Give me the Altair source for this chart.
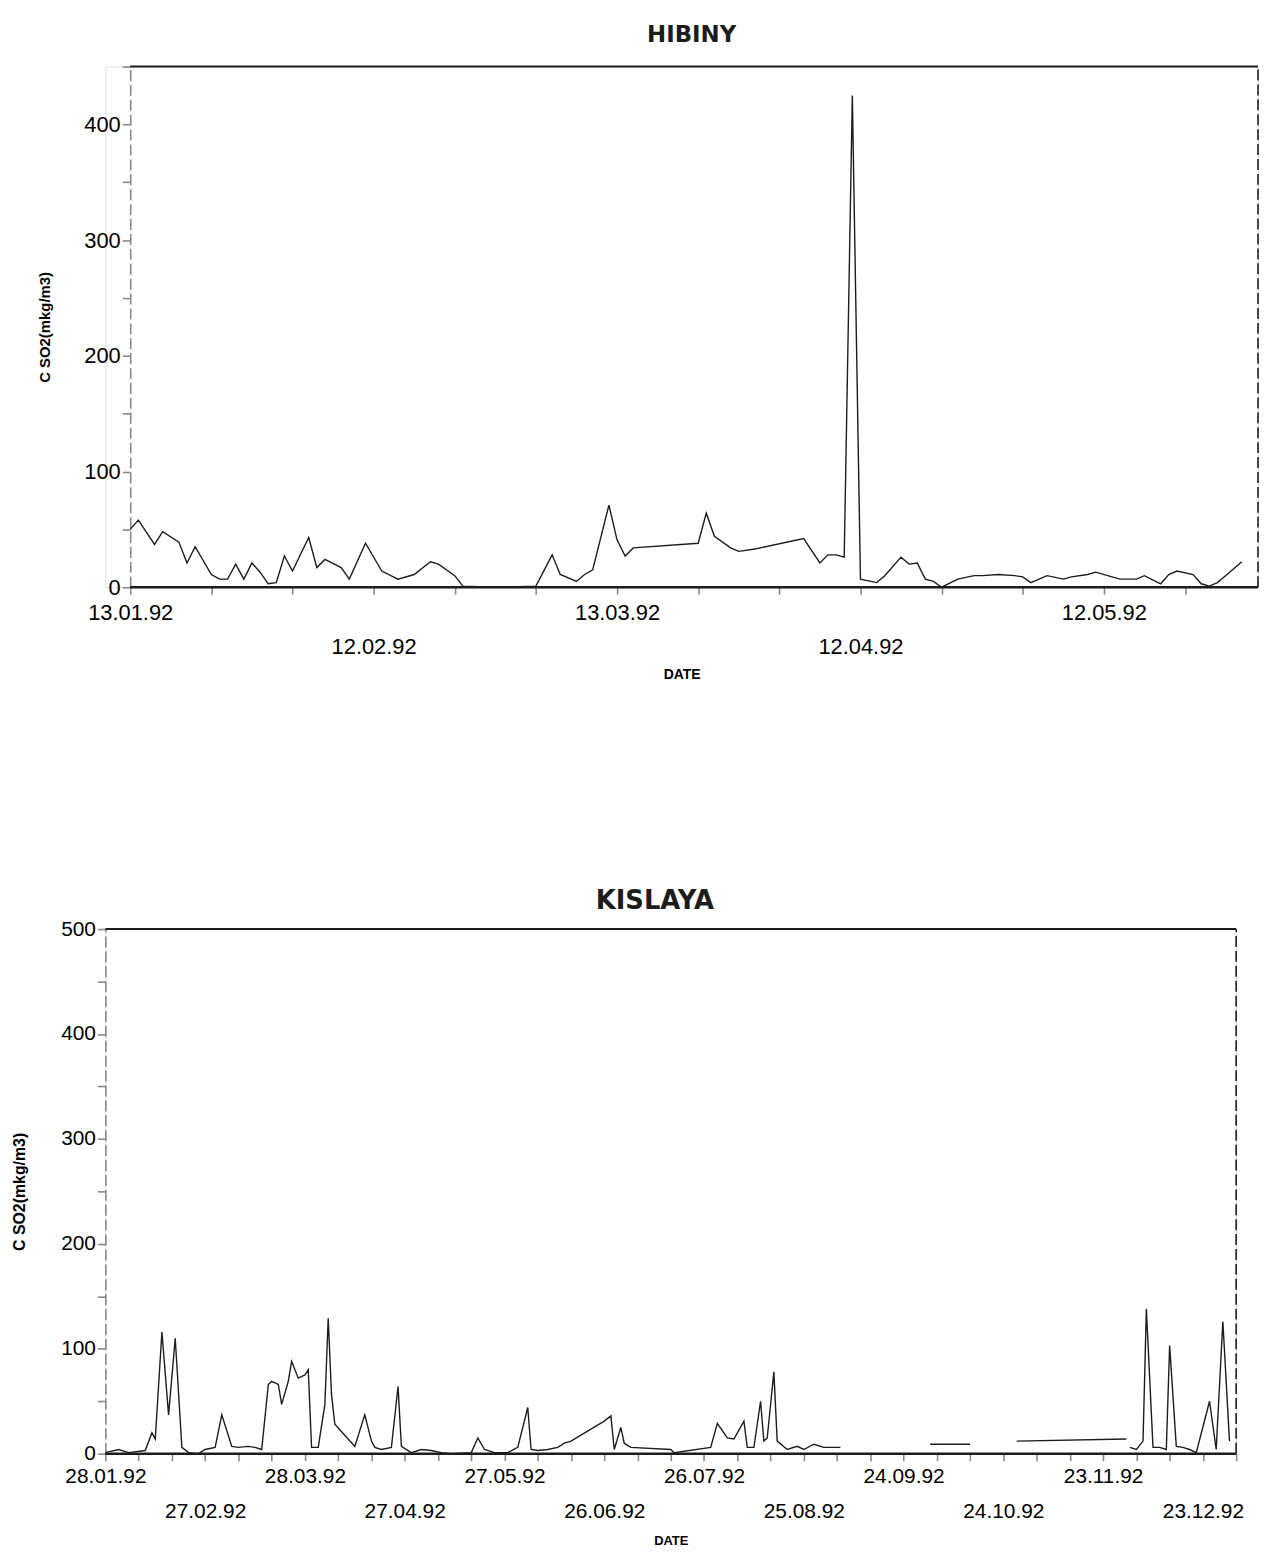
import altair as alt
import pandas as pd

FONT = "DejaVu Sans"
INK = "#1c1c1c"
DAY_MS = 86400000

# ---------------- HIBINY (top panel) ----------------
H_START = "1992-01-13"
H_END = "1992-05-31"
hib_day = [0, 1, 3, 4, 6, 7, 8, 10, 11, 12, 13, 14, 15, 16, 17, 18, 19, 20, 22, 23,
           24, 26, 27, 29, 31, 33, 35, 37, 38, 40, 41, 45, 50, 52, 53, 55, 56, 57, 59, 60,
           61, 62, 70, 71, 72, 74, 75, 77, 83, 85, 86, 87, 88, 89, 90, 92, 93, 95, 96, 97,
           98, 99, 100, 102, 104, 105, 107, 109, 110, 111, 113, 115, 116, 118, 119, 121, 122, 124, 125, 127,
           128, 129, 131, 132, 133, 134, 135, 137]
hib_val = [50, 58, 37, 48, 39, 21, 35, 11, 7, 7, 20, 7, 21, 13, 3, 4, 27, 14, 43, 17,
           24, 17, 7, 38, 14, 7, 11, 22, 20, 10, 1, 0, 1, 28, 11, 5, 11, 15, 71, 41,
           27, 34, 38, 64, 44, 34, 31, 33, 42, 21, 28, 28, 26, 425, 7, 4, 10, 26, 20, 21,
           7, 5, 0, 7, 10, 10, 11, 10, 9, 4, 10, 7, 9, 11, 13, 9, 7, 7, 10, 3,
           11, 14, 11, 3, 1, 4, 10, 22]
hib_row1 = ["13.01.92", "13.03.92", "12.05.92"]
hib_row2 = ["12.02.92", "12.04.92"]
H_YMAX = 450

# ---------------- KISLAYA (bottom panel) ----------------
K_START = "1992-01-28"
K_END = "1993-01-02"
kis_day = [0, 4, 7, 12, 14, 15, 17, 19, 21, 23, 25, 28, 30, 33, 35, 38, 40, 43, 45, 47,
           49, 50, 52, 53, 55, 56, 58, 60, 61, 62, 64, 66, 67, 68, 69, 73, 75, 78, 80, 81,
           83, 86, 88, 89, 92, 95, 98, 101, 104, 110, 112, 114, 117, 121, 124, 127, 128, 130, 133, 136,
           138, 140, 150, 152, 153, 155, 156, 158, 170, 171, 182, 184, 187, 189, 192, 193, 195, 197, 198, 199,
           201, 202, 205, 208, 210, 213, 216, 221,
           248, 260,
           274, 307,
           308, 310, 312, 313, 315, 317, 319, 320, 322, 324, 326, 328, 332, 334, 336, 338]
kis_val = [1, 4, 1, 3, 20, 14, 116, 37, 110, 6, 1, 0, 4, 6, 37, 7, 6, 7, 6, 4,
           66, 69, 66, 47, 69, 88, 72, 75, 80, 6, 6, 47, 129, 56, 28, 14, 7, 37, 12, 6,
           4, 6, 64, 7, 1, 4, 3, 1, 0, 1, 15, 4, 1, 1, 6, 44, 4, 3, 4, 6,
           10, 12, 31, 36, 4, 25, 10, 6, 4, 1, 6, 29, 15, 14, 31, 6, 6, 50, 12, 15,
           78, 12, 4, 7, 4, 9, 6, 6,
           9, 9,
           12, 14,
           6, 4, 12, 138, 6, 6, 4, 103, 7, 6, 4, 1, 50, 4, 126, 12]
kis_seg = [1] * 88 + [2] * 2 + [3] * 2 + [4] * 16
kis_row1 = ["28.01.92", "28.03.92", "27.05.92", "26.07.92", "24.09.92", "23.11.92"]
kis_row2 = ["27.02.92", "27.04.92", "26.06.92", "25.08.92", "24.10.92", "23.12.92"]
K_YMAX = 500

Y_TITLE = "C SO2(mkg/m3)"


def ms(ts):
    return int(pd.Timestamp(ts).timestamp() * 1000)


def to_dates(start, days):
    s = pd.Timestamp(start)
    return [(s + pd.Timedelta(days=int(d))).strftime("%Y-%m-%d") for d in days]


def x_label_expr(row1, row2):
    r1 = "[" + ", ".join("'" + s + "'" for s in row1) + "]"
    r2 = "[" + ", ".join("'" + s + "'" for s in row2) + "]"
    lab = "utcFormat(datum.value, '%d.%m.%y')"
    return (f"indexof({r1}, {lab}) >= 0 ? {lab} : "
            f"(indexof({r2}, {lab}) >= 0 ? [' ', {lab}] : '')")


def panel(title, start, end, days, vals, segs, row1, row2, ymax, width, height,
          shift_px, label_size, title_dx, ytitle_size, date_size, title_size, title_offset,
          xlab_pad, date_pad):
    n_days = (pd.Timestamp(end) - pd.Timestamp(start)).days
    axis_w = width - shift_px
    shift_days = shift_px * n_days / axis_w
    dom = [ms(start) - shift_days * DAY_MS, ms(end)]
    ticks = [ms(start) + 10 * k * DAY_MS for k in range(n_days // 10 + 1)]

    xscale = alt.Scale(type="utc", domain=dom)
    yscale = alt.Scale(domain=[0, ymax], nice=False)

    xaxis = alt.Axis(values=ticks, labelExpr=x_label_expr(row1, row2), title="DATE",
                     labelFontSize=label_size, labelLineHeight=35, labelOverlap=False,
                     labelFlush=False, labelPadding=xlab_pad, tickSize=7, tickWidth=1.6,
                     titleFontSize=date_size, titleFontWeight="bold", titlePadding=date_pad,
                     domain=False, grid=False)
    yaxis = alt.Axis(values=list(range(0, ymax + 1, 50)),
                     labelExpr="datum.value % 100 == 0 ? datum.label : ''", format="d",
                     title=Y_TITLE, titleFontSize=ytitle_size, titleFontWeight="bold",
                     titleX=-78, labelFontSize=label_size, labelPadding=2, tickSize=8,
                     tickWidth=1.6, domainDash=[11, 4], domainWidth=1.6, grid=False,
                     offset=-shift_px, labelOverlap=False)

    df = pd.DataFrame({"date": to_dates(start, days), "val": vals, "seg": segs})
    line = alt.Chart(df).mark_line(color=INK, strokeWidth=1.4, strokeJoin="miter").encode(
        x=alt.X("date:T", scale=xscale, axis=xaxis),
        y=alt.Y("val:Q", scale=yscale, axis=yaxis),
        detail="seg:N",
    )

    frame_h = pd.DataFrame({"date": [start, start], "date2": [end, end], "val": [0, ymax],
                            "w": [2.4, 2.0]})
    hrules = alt.Chart(frame_h).mark_rule(color=INK).encode(
        x=alt.X("date:T", scale=xscale, axis=xaxis),
        x2="date2:T",
        y=alt.Y("val:Q", scale=yscale, axis=yaxis),
        strokeWidth=alt.StrokeWidth("w:Q", scale=None),
    )
    frame_v = pd.DataFrame({"date": [end], "val": [0], "val2": [ymax]})
    vrule = alt.Chart(frame_v).mark_rule(color=INK, strokeWidth=1.6, strokeDash=[11, 4]).encode(
        x=alt.X("date:T", scale=xscale, axis=xaxis),
        y=alt.Y("val:Q", scale=yscale, axis=yaxis),
        y2="val2:Q",
    )

    return alt.layer(hrules, vrule, line).properties(
        width=width, height=height,
        title=alt.TitleParams(title, fontSize=title_size, fontWeight="bold", font=FONT,
                              color=INK, offset=title_offset, dx=title_dx),
    )


top = panel("HIBINY", H_START, H_END, hib_day, hib_val, [1] * len(hib_day),
            hib_row1, hib_row2, H_YMAX, 1160, 524, 25, 22, 10, 15, 14, 23, 9, 8, 10)
bottom = panel("KISLAYA", K_START, K_END, kis_day, kis_val, kis_seg,
               kis_row1, kis_row2, K_YMAX, 1138, 528, 0, 21, -16, 16, 13, 26, 4, 5, 13)

chart = alt.vconcat(top, bottom, spacing=206).properties(
    padding={"top": 10, "left": 3, "right": 0, "bottom": 0}
).configure_view(stroke=None).configure_axis(
    labelFont=FONT, titleFont=FONT, labelColor=INK, titleColor=INK,
    domainColor=INK, tickColor=INK
).configure(background="white")

chart.save("out.html", embed_options={"renderer": "svg", "actions": False})
